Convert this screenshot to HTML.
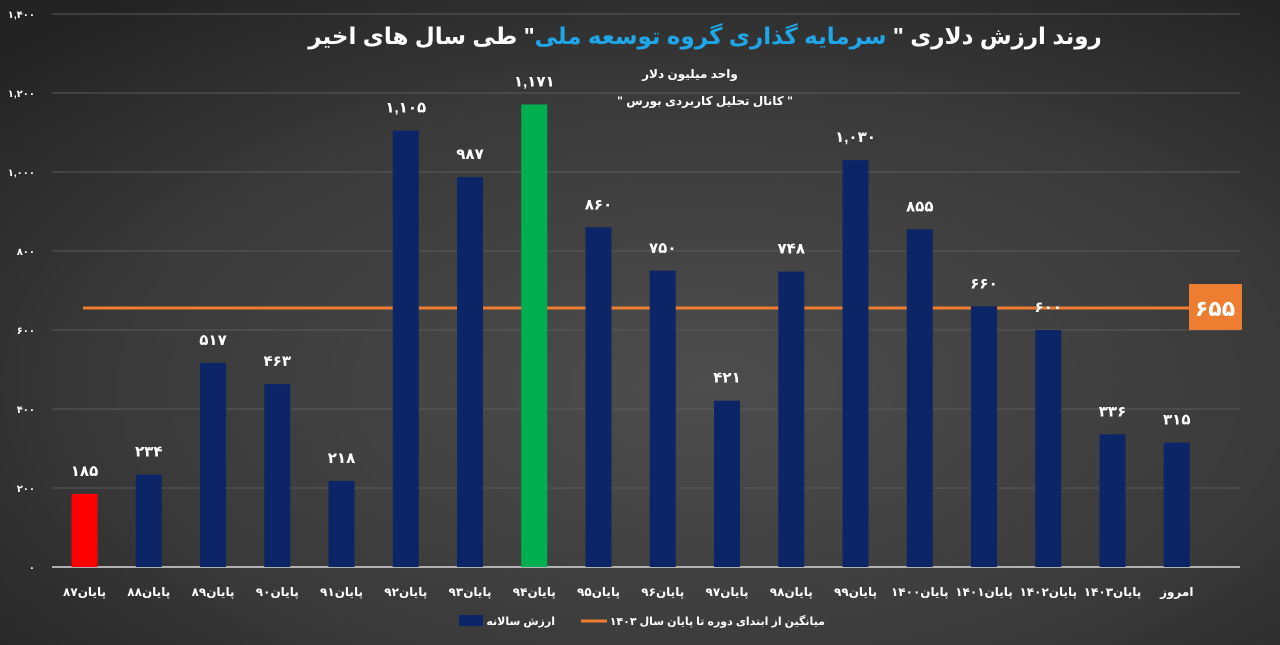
<!DOCTYPE html>
<html><head><meta charset="utf-8">
<style>
html,body{margin:0;padding:0;width:1280px;height:645px;overflow:hidden;background:#333;}
svg{display:block;font-family:"Liberation Sans","DejaVu Sans",sans-serif;font-weight:bold;}
</style></head>
<body>
<svg id="s" width="1280" height="645" viewBox="0 0 1280 645" xmlns="http://www.w3.org/2000/svg">
<defs>
<radialGradient id="bg" cx="0.55" cy="0.6" r="0.75">
<stop offset="0" stop-color="#4d4d4d"/>
<stop offset="0.6" stop-color="#3a3a3a"/>
<stop offset="1" stop-color="#232323"/>
</radialGradient>
</defs>
<rect width="1280" height="645" fill="url(#bg)"/>
<g id="grid"></g>
<line x1="83" y1="308" x2="1190" y2="308" stroke="#ed7d31" stroke-width="3"/>
<g id="bars"></g>
<rect x="1189" y="284" width="53" height="46" fill="#ed7d31"/>
<text x="1215" y="316" fill="#fff" font-size="22" text-anchor="middle">۶۵۵</text>
<text x="705" y="44" fill="#fff" font-size="23" text-anchor="middle" direction="rtl">روند ارزش دلاری " <tspan fill="#1fa6e8">سرمایه گذاری گروه توسعه ملی</tspan>" طی سال های اخیر</text>
<text x="690" y="78" fill="#fff" font-size="12" text-anchor="middle" direction="rtl">واحد میلیون دلار</text>
<text x="705" y="105" fill="#fff" font-size="12" text-anchor="middle" direction="rtl">" کانال تحلیل کاربردی بورس "</text>
<rect x="459" y="615" width="24" height="11" fill="#0b2566"/>
<text x="555" y="625" fill="#fff" font-size="11" text-anchor="start" direction="rtl">ارزش سالانه</text>
<line x1="581" y1="621" x2="607" y2="621" stroke="#ed7d31" stroke-width="3"/>
<text x="825" y="625" fill="#fff" font-size="11" text-anchor="start" direction="rtl">میانگین از ابتدای دوره تا پایان سال ۱۴۰۳</text>
</svg>
<script>
var NS="http://www.w3.org/2000/svg";
function fa(n){return String(n).replace(/\d/g,function(d){return "۰۱۲۳۴۵۶۷۸۹"[d];});}
function fmt(v){var s=String(v);if(v>=1000)s=s.slice(0,s.length-3)+","+s.slice(-3);return fa(s);}
function el(p,t,a,txt){var e=document.createElementNS(NS,t);for(var k in a)e.setAttribute(k,a[k]);if(txt!=null)e.textContent=txt;p.appendChild(e);return e;}
var g=document.getElementById("grid"),b=document.getElementById("bars");
var y0=567,k=0.395;
for(var v=0;v<=1400;v+=200){var y=y0-v*k;
el(g,"line",{x1:52,x2:1240,y1:y,y2:y,stroke:v==0?"#d9d9d9":"#5a5a5a","stroke-width":v==0?1.5:1});
el(g,"text",{x:35,y:y+4,fill:"#fff","font-size":10,"text-anchor":"end"},fmt(v));}
var vals=[185,234,517,463,218,1105,987,1171,860,750,421,748,1030,855,660,600,336,315];
var labs=["۸۷","۸۸","۸۹","۹۰","۹۱","۹۲","۹۳","۹۴","۹۵","۹۶","۹۷","۹۸","۹۹","۱۴۰۰","۱۴۰۱","۱۴۰۲","۱۴۰۳"];
for(var i=0;i<vals.length;i++){var cx=84.5+i*64.25,h=vals[i]*k;
var c=i==0?"#ff0000":(i==7?"#00b050":"#0b2566");
el(b,"rect",{x:cx-13,y:y0-h,width:26,height:h,fill:c});
el(b,"text",{x:cx,y:y0-h-18,fill:"#fff","font-size":15,"text-anchor":"middle"},fmt(vals[i]));
el(b,"text",{x:cx,y:596,fill:"#fff","font-size":12,"text-anchor":"middle",direction:"rtl"},i<17?"پایان"+labs[i]:"امروز");}
</script>
</body></html>
